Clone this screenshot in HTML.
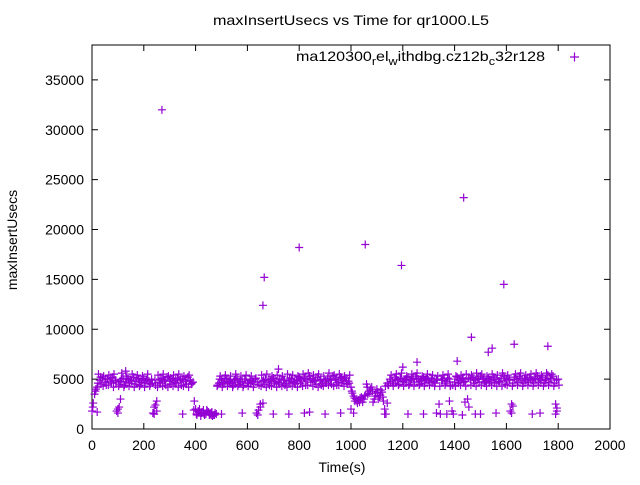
<!DOCTYPE html>
<html><head><meta charset="utf-8"><style>
body{margin:0;background:#fff;}
svg text{font-family:"Liberation Sans",sans-serif;font-size:14px;fill:#000;}
</style></head><body>
<svg id="chart" width="640" height="480">
<rect x="0" y="0" width="640" height="480" fill="#fff"/>
<text x="213" y="25" textLength="276" lengthAdjust="spacingAndGlyphs">maxInsertUsecs vs Time for qr1000.L5</text>
<text x="342" y="472" text-anchor="middle">Time(s)</text>
<text transform="translate(17,240) rotate(-90)" text-anchor="middle" font-size="15">maxInsertUsecs</text>
<g id="axes"></g>
<g id="marks"></g>
<g>
<text x="296" y="61" textLength="249" lengthAdjust="spacingAndGlyphs">ma120300<tspan font-size="11" dy="4">r</tspan><tspan dy="-4">el</tspan><tspan font-size="11" dy="4">w</tspan><tspan dy="-4">ithdbg.cz12b</tspan><tspan font-size="11" dy="4">c</tspan><tspan dy="-4">32r128</tspan></text>
<path d="M570 57h9M574.5 52.5v9" stroke="#9400d3" stroke-width="1.2"/>
</g>
</svg>
<script>
const xTicks=[0,200,400,600,800,1000,1200,1400,1600,1800,2000];
const yTicks=[0,5000,10000,15000,20000,25000,30000,35000];
const bandA=[1800,3500,4200,4900,5100,4700,5000,4800,5200,4900,2000,4800,5100,4700,5000,4900,5200,4800,5000,4700,5100,4900,4800,5000,2200,1800,4700,5100,4900,5200,4800,5000,4700,5100,4900,5000,4800,5200,4900,4700,2000,1800,1600,1900,1500,1700,1600,1400,1500,4600,4900,4700,5000,4800,4600,4900,5100,4700,4800,5000,4600,4900,4800,5000,4700,2500,4800,5000,4700,4900,5100,4800,4700,5000,4900,4600,4800,5000,4700,4900,5200,4800,5100,4900,5300,5000,4800,5200,4900,4600,4800,5100,4900,5300,5000,4700,5200,4900,5100,4800,4200,3300,3000,2900,3200,3000,4500,3800,4200,3000,4000,3200,3700,2000,4600,5000,4800,5200,4900,5100,4800,5000,5200,4900,5100,5300,5000,4800,5200,5000,4900,5100,4800,5000,2500,4900,5100,4800,5000,1800,4700,5200,4900,5100,4800,3000,5000,5200,4900,5100,5300,5000,4800,5100,4900,5200,5000,4800,5100,5300,4900,5000,2500,5200,5000,5300,4900,5100,5000,5200,4900,5100,5300,5000,5200,4900,5400,5100,5300,2500,5000];
const bandB=[2600,4000,5500,4500,5300,4400,5400,4600,5500,1800,4500,5600,4400,5300,4600,5500,4500,5400,4400,5300,4600,5500,4500,1600,4400,5400,4600,5500,4400,5300,4500,5400,4600,5500,4400,5300,4500,5400,4600,2800,1400,2000,1700,1400,1800,1500,1300,1600,4400,5300,4500,5400,4600,5300,4400,5500,4500,5300,4400,5400,4600,5300,4500,1600,4400,5400,4500,5500,4400,5300,4600,5400,4500,5300,4400,5500,4600,5400,4500,5300,4600,5500,4400,5600,4700,5400,4500,5500,4400,5300,4600,5600,4500,5400,4400,5500,4600,5300,4500,5400,3600,2800,2600,3100,2700,3400,3500,4000,2700,3600,3000,3900,2800,1500,4400,5400,4600,5500,4500,5600,4700,5300,4500,5500,4700,5600,4500,5300,4600,5500,4700,5400,4600,5300,1500,5400,4600,5500,4400,1500,5300,4600,5400,4700,5500,2200,5400,4600,5600,4700,5500,4600,5300,4700,5500,4600,5400,4700,5600,4500,5400,1800,4600,5500,4700,5600,4600,5400,4700,5500,4600,5600,4700,5400,4600,5600,4700,5500,4600,1800];
const bandC=[2200,3800,4600,5200,4300,5000,4400,5100,4200,4700,4300,5000,4200,5100,4300,4800,4200,5100,4300,4900,4200,5000,4300,4600,4900,4200,5000,4300,4800,4200,5100,4300,4900,4200,5000,4300,4800,4200,4500,1900,1500,1700,1600,1500,1900,1400,1700,1400,4300,5000,4200,5100,4300,4700,4200,5000,4300,4800,4200,5000,4300,4700,4200,5100,1900,4300,4900,4200,5000,4300,4800,4200,5000,4300,4900,4200,5100,4300,4800,4200,5000,4300,5100,4400,5000,4300,4900,4200,5000,4300,4800,4400,5000,4300,4900,4400,5100,4300,4800,4600,3800,3100,2800,2700,3000,3300,4200,3600,3800,3300,3700,3400,3200,4300,4400,4800,4300,5000,4400,5100,4300,4900,4400,5000,4300,5100,4400,4900,4300,5100,4400,4800,4300,5000,4300,4900,4400,5100,4300,4400,4300,4900,4400,5000,4300,5100,4400,4900,4300,5000,4400,5100,4300,4900,4400,5000,4300,4800,4300,5100,4400,4900,4300,5000,4400,5100,4300,4900,4400,5000,4300,5100,4400,4900,4300,5000,4400,5100,4300,4900,4400];
const lowT=[20,100,105,240,245,350,420,460,500,580,640,650,700,760,820,840,900,960,1000,1010,1130,1140,1220,1280,1330,1370,1380,1430,1440,1480,1500,1560,1620,1625,1700,1730,1790,1795,110,250,660];
const lowV=[1700,1600,2200,1500,2400,1500,1300,1400,1500,1600,1400,2200,1500,1500,1600,1700,1500,1600,2000,1600,1500,2600,1500,1500,1600,1500,2800,1400,2700,1500,1500,1600,1600,2300,1500,1600,1500,2100,3000,2800,2600];
const outT=[130,270,660,665,720,800,1055,1195,1200,1255,1410,1435,1465,1530,1545,1590,1630,1760];
const outV=[5800,32000,12400,15200,6000,18200,18500,16400,6200,6700,6800,23200,9200,7700,8100,14500,8500,8300];
const X0=92,X1=610,Y0=429,Y1=45;
const sx=v=>X0+(v/2000)*(X1-X0);
const sy=v=>Y0-(v/38500)*(Y0-Y1);
const NS='http://www.w3.org/2000/svg';
const axes=document.getElementById('axes'),marks=document.getElementById('marks');
function mk(tag,attrs,parent){const e=document.createElementNS(NS,tag);for(const k in attrs)e.setAttribute(k,attrs[k]);parent.appendChild(e);return e;}
const frame=mk('rect',{x:X0,y:Y1,width:X1-X0,height:Y0-Y1,fill:'none',stroke:'#000','stroke-width':1},axes);


xTicks.forEach(t=>{const x=sx(t);
const l=mk('path',{d:`M${x} ${Y0}v-6M${x} ${Y1}v6`,stroke:'#000'},axes);


const tx=mk('text',{x:x,y:Y0+21,'text-anchor':'middle'},axes);tx.textContent=t;

});
yTicks.forEach(t=>{const y=sy(t);
const l=mk('path',{d:`M${X0} ${y}h6M${X1} ${y}h-6`,stroke:'#000'},axes);


const tx=mk('text',{x:X0-8,y:y+5,'text-anchor':'end'},axes);tx.textContent=t;

});
function plus(t,v){const x=sx(t),y=sy(v);
const p=mk('path',{d:`M${x-4} ${y}h8M${x} ${y-4}v8`,stroke:'#9400d3','stroke-width':1.2},marks);

}
bandA.forEach((v,i)=>plus(i*10,v));
bandB.forEach((v,i)=>plus(i*10+5,v));
bandC.forEach((v,i)=>plus(i*10+3,v));
lowV.forEach((v,i)=>plus(lowT[i],v));
outV.forEach((v,i)=>plus(outT[i],v));
</script>
</body></html>
